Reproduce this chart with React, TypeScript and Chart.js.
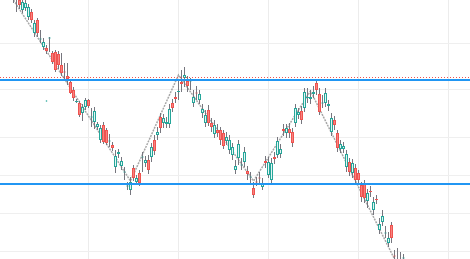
import React, { useEffect, useRef } from "react";
import { Chart, registerables } from "chart.js";

Chart.register(...registerables);

// ---- data (price units) ----
const opens = [265, 263, 259, 249, 251, 242, 247, 226, 239, 219.5, 212, 211, 220.5, 206, 207, 205, 194, 187.5, 183, 177, 169, 157, 156, 146, 152, 159, 141.5, 137, 132, 119, 134, 129, 117.5, 114, 92, 105, 93, 86.5, 72.5, 69, 91, 77, 86, 101.5, 96, 99, 102, 119, 124, 142, 136, 135, 135, 156, 162, 167, 177, 181, 178, 177.5, 156, 166.5, 159, 146, 136, 149, 136, 125, 129, 129, 126, 118, 109, 104, 89, 101, 93.5, 97, 88, 81.5, 71, 77.5, 81.5, 72, 98, 84, 79, 102, 104, 105, 130, 126, 130, 127, 136, 144, 148, 151, 161, 160, 165, 176, 165, 155.5, 156, 153, 127, 139, 126, 110, 110, 92, 97, 86, 91, 86, 74, 76, 58, 68, 49, 60, 29, 37, 25.5, 16, 34, 3.5, -3, -5, 0.5];
const closes = [261, 260, 254, 257, 256, 252, 239, 236, 226, 220.5, 217, 208, 221.5, 197, 189, 194, 186, 186.5, 180, 166, 161, 158, 144, 152, 159, 153, 142.5, 148, 135, 131, 117, 116, 118.5, 111, 103, 107, 98, 87.5, 73.5, 77, 81, 81, 76, 102.5, 99, 89, 112, 108, 127, 131, 141, 137, 150, 151, 160, 168, 175, 184, 173, 178.5, 162, 165.5, 165, 150, 144, 136, 132, 134, 126, 119, 113, 122, 119, 112, 93, 115, 94.5, 107, 85, 82.5, 64, 76.5, 80.5, 76, 96, 97, 96, 100, 118, 110, 128, 131, 126, 116, 151, 147, 139, 167, 162, 162, 167, 169, 147, 156.5, 166, 155, 141, 134, 111, 115, 113, 105, 87, 96, 79, 79, 62, 61, 66, 67, 57, 59, 35, 43, 26.5, 21, 21, 2.5, -7, -9, 1.5];
const highs = [268, 265, 262, 261, 259, 255, 250, 239, 241, 229, 221, 214, 222, 208, 209, 208, 206, 196, 196, 178, 172, 160, 158, 155, 161, 160, 151, 152, 137, 134, 137, 131, 125, 117, 109, 110, 102, 92, 77, 82, 94, 84, 89, 107, 103, 104, 116, 124, 132, 146, 145, 142, 155, 160, 167, 179, 189, 192, 183, 181, 169, 173, 169, 155, 149, 154, 141, 139, 135, 132, 129, 127, 124, 116, 99, 119, 101, 112, 93, 87, 77, 82, 87, 81, 103, 102, 101, 107, 122, 115, 135, 135, 136, 131, 155, 151, 153, 171, 171, 169, 173, 179, 171, 164, 171, 159, 146, 143, 129, 119, 117, 109, 101, 100, 95, 89, 77, 79, 70, 73, 62, 64, 41, 49, 33, 27, 37, 9, 11, 7, 5];
const lows = [256, 247, 250, 246, 248, 239, 236, 222, 222, 216, 209, 205, 207, 195, 187, 190, 183, 179, 174, 165, 158, 156, 142, 138, 149, 151, 132, 130, 129, 116, 115, 114, 112, 108, 86, 101, 89, 79, 69, 64, 78, 74, 73, 87, 92, 85, 97, 104, 119, 126, 131, 131, 131, 147, 156, 159, 167, 172, 167, 169, 152, 159, 155, 141, 132, 133, 127, 121, 122, 114, 110, 114, 105, 99, 85, 94, 89, 92, 79, 76, 61, 73, 76, 69, 91, 81, 76, 95, 101, 101, 123, 121, 121, 112, 132, 140, 135, 147, 156, 155, 161, 164, 144, 151, 152, 148, 123, 129, 107, 106, 106, 87, 83, 81, 76, 76, 57, 56, 51, 62, 44, 55, 25, 33, 21, 12, 16, -1, -11, -13, -3];

const zigzagIndex = [0, 39, 55, 80, 99, 128];
const zigzagPrice = [259, 78, 184, 78, 168, -6];

const resistanceLevel = 179;
const alertLevel = 181.5;
const supportLevel = 75;

const strayIndex = [11];
const strayPrice = [158];

const yGridTicks = [215.7, 169, 121.7, 83.3, 45.7, 8];
const xGridTicks = [25, 55, 85, 115, 145];

const X_MIN = -4.5;
const X_MAX = X_MIN + 470 / 3;
const Y_MIN = 0;
const Y_MAX = 259;

const UP = "#26a69a";
const DOWN = "#ef5350";

export default function App() {
  const canvasRef = useRef<HTMLCanvasElement | null>(null);

  useEffect(() => {
    const canvas = canvasRef.current;
    if (!canvas) return;
    const isUp = opens.map((o, i) => closes[i] >= o);

    const chart = new Chart(canvas, {
      type: "bar",
      data: {
        datasets: [
          {
            type: "line",
            data: [
              { x: X_MIN, y: resistanceLevel },
              { x: X_MAX, y: resistanceLevel },
            ],
            borderColor: "#2196f3",
            borderWidth: 2,
            pointRadius: 0,
            pointHoverRadius: 0,
            order: 0,
          },
          {
            type: "line",
            data: [
              { x: X_MIN, y: supportLevel },
              { x: X_MAX, y: supportLevel },
            ],
            borderColor: "#2196f3",
            borderWidth: 2,
            pointRadius: 0,
            pointHoverRadius: 0,
            order: 0,
          },
          {
            type: "line",
            data: [
              { x: X_MIN, y: alertLevel },
              { x: X_MAX, y: alertLevel },
            ],
            borderColor: DOWN,
            borderWidth: 1,
            borderDash: [1, 2],
            pointRadius: 0,
            pointHoverRadius: 0,
            order: 0,
          },
          {
            type: "bar",
            data: opens.map((o, i) => ({ x: i, y: [o, closes[i]] })),
            backgroundColor: isUp.map((u) => (u ? "#e3f4f2" : "#f6837f")),
            borderColor: isUp.map((u) => (u ? UP : DOWN)),
            borderWidth: 1,
            borderSkipped: false,
            barThickness: 3,
            grouped: false,
            inflateAmount: 0,
            order: 1,
          } as any,
          {
            type: "bar",
            data: lows.map((l, i) => ({ x: i, y: [l, highs[i]] })),
            backgroundColor: "#76767e",
            borderWidth: 0,
            barThickness: 1,
            grouped: false,
            inflateAmount: 0,
            order: 2,
          } as any,
          {
            type: "line",
            data: zigzagIndex.map((x, i) => ({ x, y: zigzagPrice[i] })),
            borderColor: "rgba(130,130,130,0.7)",
            borderWidth: 1.5,
            borderDash: [2, 1],
            pointRadius: 0,
            pointHoverRadius: 0,
            order: 3,
          },
          {
            type: "line",
            data: strayIndex.map((x, i) => ({ x, y: strayPrice[i] })),
            showLine: false,
            pointRadius: 0.8,
            pointHoverRadius: 0,
            pointBorderWidth: 0,
            pointBackgroundColor: UP,
            order: 0,
          },
        ] as any,
      },
      options: {
        animation: false,
        responsive: false,
        events: [],
        layout: { padding: 0, autoPadding: false },
        plugins: {
          legend: { display: false },
          tooltip: { enabled: false },
        },
        scales: {
          x: {
            type: "linear",
            min: X_MIN,
            max: X_MAX,
            offset: false,
            ticks: { display: false },
            grid: { color: "#ececec", drawTicks: false, offset: false },
            border: { display: false },
            afterBuildTicks: (scale: any) => {
              scale.ticks = xGridTicks.map((v) => ({ value: v }));
            },
          },
          y: {
            type: "linear",
            min: Y_MIN,
            max: Y_MAX,
            ticks: { display: false },
            grid: { color: "#efefef", drawTicks: false },
            border: { display: false },
            afterBuildTicks: (scale: any) => {
              scale.ticks = yGridTicks.map((v) => ({ value: v }));
            },
          },
        },
      } as any,
    });

    return () => chart.destroy();
  }, []);

  return (
    <div
      style={{
        position: "fixed",
        left: 0,
        top: 0,
        width: 470,
        height: 259,
        background: "#ffffff",
      }}
    >
      <canvas ref={canvasRef} width={470} height={259} style={{ display: "block" }} />
    </div>
  );
}
